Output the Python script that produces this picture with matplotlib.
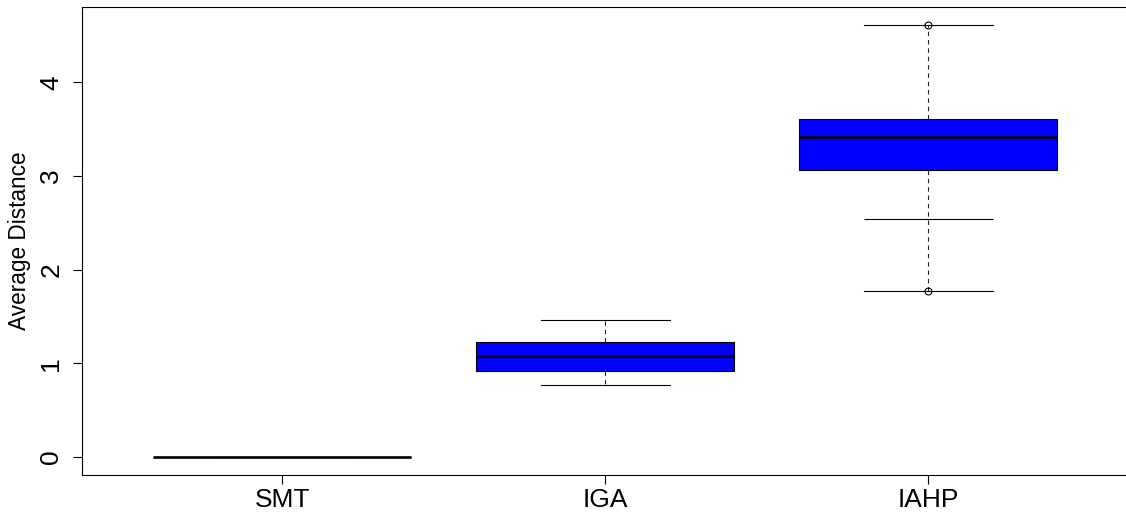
import matplotlib
matplotlib.use("Agg")
import matplotlib.pyplot as plt

plt.rcParams['font.family'] = ['Liberation Sans', 'DejaVu Sans']

# five-number summaries per method
methods = ['SMT', 'IGA', 'IAHP']
q1 = [0.0, 0.919, 3.070]
med = [0.0, 1.076, 3.422]
q3 = [0.0, 1.231, 3.613]
whislo = [0.0, 0.773, 1.771]
whishi = [0.0, 1.459, 4.611]
fliers = [[], [], [1.771, 4.611]]
# IAHP has a second lower staple inside its whisker
inner_caps = {'IAHP': 2.538}

positions = [1, 2, 3]
box_width = 0.8
cap_width = box_width / 2

stats = []
for i, m in enumerate(methods):
    stats.append(dict(label=m, q1=q1[i], med=med[i], q3=q3[i],
                      whislo=whislo[i], whishi=whishi[i], fliers=fliers[i]))

fig = plt.figure(figsize=(11.26, 5.14), dpi=100)
ax = fig.add_axes([82 / 1126, 39.5 / 514, 1046.5 / 1126, 467.5 / 514])

ax.bxp(stats, positions=positions, widths=box_width, patch_artist=True,
       capwidths=cap_width,
       boxprops=dict(facecolor='#0000ff', edgecolor='black', linewidth=0.8),
       medianprops=dict(color='black', linewidth=1.9, solid_capstyle='butt'),
       whiskerprops=dict(color='#222222', linewidth=0.8, linestyle=(0, (4, 3.5))),
       capprops=dict(color='black', linewidth=0.8),
       flierprops=dict(marker='o', markersize=5, markerfacecolor='none',
                       markeredgecolor='black', markeredgewidth=0.8))

for m, y in inner_caps.items():
    p = positions[methods.index(m)]
    ax.hlines(y, p - cap_width / 2, p + cap_width / 2, color='black', linewidth=0.8)

ax.set_xlim(0.38, 3.62)
ax.set_ylim(-0.185, 4.805)
ax.set_xticks(positions)
ax.set_xticklabels(methods, fontsize=19)
ax.set_yticks([0, 1, 2, 3, 4])
ax.set_yticklabels(['0', '1', '2', '3', '4'], fontsize=19, rotation=90, va='center')
ax.tick_params(axis='both', length=6.5, width=0.8, direction='out', color='black')
ax.tick_params(axis='y', pad=7)
ax.tick_params(axis='x', pad=3)
ax.set_ylabel('Average Distance', fontsize=16.3, labelpad=6)

for s in ax.spines.values():
    s.set_linewidth(0.8)
ax.spines['right'].set_visible(False)

fig.savefig('out.png', dpi=100)
